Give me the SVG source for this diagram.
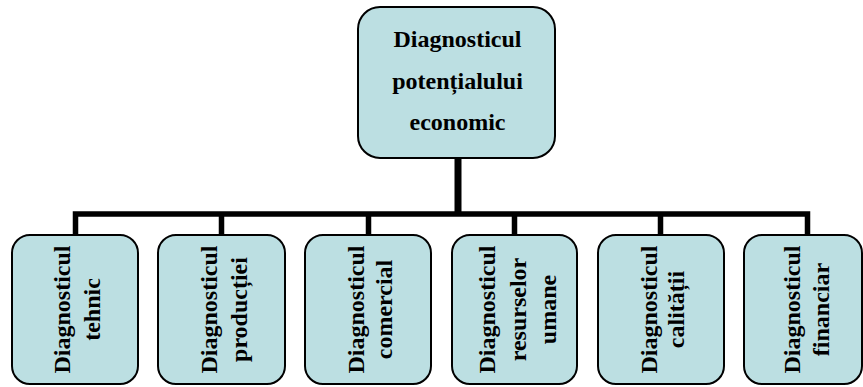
<svg xmlns="http://www.w3.org/2000/svg" width="863" height="387" viewBox="0 0 863 387">
  <style>
    .box { fill: #bcdfe2; stroke: #000; stroke-width: 2; }
    .lbl { font-weight: bold; font-size: 24px; fill: #000; text-anchor: middle; }
    .wire { fill: none; stroke: #000; stroke-linejoin: miter; stroke-linecap: butt; }
  </style>
  <rect width="863" height="387" fill="#fff"/>

  <!-- connectors -->
  <g id="connectors">
    <path class="wire" stroke-width="7" d="M458 158 V214"/>
    <path class="wire" stroke-width="5.5" d="M75.5 235 V214 H807.5 V235"/>
    <path class="wire" stroke-width="5.5" d="M221.5 214 V235 M368.5 214 V235 M514.5 214 V235 M660.5 214 V235"/>
  </g>

  <g font-family="Liberation Serif, Times New Roman, DejaVu Serif, serif">
  <!-- root -->
  <g id="root">
    <rect class="box" x="358" y="7" width="197" height="151" rx="22"/>
    <text class="lbl" x="457.5" y="47">Diagnosticul</text>
    <text class="lbl" x="457.5" y="89">potențialului</text>
    <text class="lbl" x="457.5" y="130">economic</text>
  </g>

  <!-- children, labels read bottom to top -->
  <g id="tehnic">
    <rect class="box" x="12" y="235" width="126" height="149" rx="18"/>
    <g transform="translate(75,309.5) rotate(-90)">
      <text class="lbl" x="0" y="-5">Diagnosticul</text>
      <text class="lbl" x="0" y="25">tehnic</text>
    </g>
  </g>

  <g id="productie">
    <rect class="box" x="158" y="235" width="127" height="149" rx="18"/>
    <g transform="translate(221.5,309.5) rotate(-90)">
      <text class="lbl" x="0" y="-4.5">Diagnosticul</text>
      <text class="lbl" x="0" y="25.5">producției</text>
    </g>
  </g>

  <g id="comercial">
    <rect class="box" x="305" y="235" width="126" height="149" rx="18"/>
    <g transform="translate(368,309.5) rotate(-90)">
      <text class="lbl" x="0" y="-4.5">Diagnosticul</text>
      <text class="lbl" x="0" y="23.5">comercial</text>
    </g>
  </g>

  <g id="resurse-umane">
    <rect class="box" x="452" y="235" width="125" height="149" rx="18"/>
    <g transform="translate(514.5,309.5) rotate(-90)">
      <text class="lbl" x="0" y="-19.5">Diagnosticul</text>
      <text class="lbl" x="0" y="11.5">resurselor</text>
      <text class="lbl" x="0" y="41.5">umane</text>
    </g>
  </g>

  <g id="calitate">
    <rect class="box" x="598" y="235" width="126" height="149" rx="18"/>
    <g transform="translate(661,309.5) rotate(-90)">
      <text class="lbl" x="0" y="-4">Diagnosticul</text>
      <text class="lbl" x="0" y="22.5">calității</text>
    </g>
  </g>

  <g id="financiar">
    <rect class="box" x="744" y="235" width="118" height="149" rx="18"/>
    <g transform="translate(803,309.5) rotate(-90)">
      <text class="lbl" x="0" y="-3">Diagnosticul</text>
      <text class="lbl" x="0" y="26">financiar</text>
    </g>
  </g>
  </g>
</svg>
